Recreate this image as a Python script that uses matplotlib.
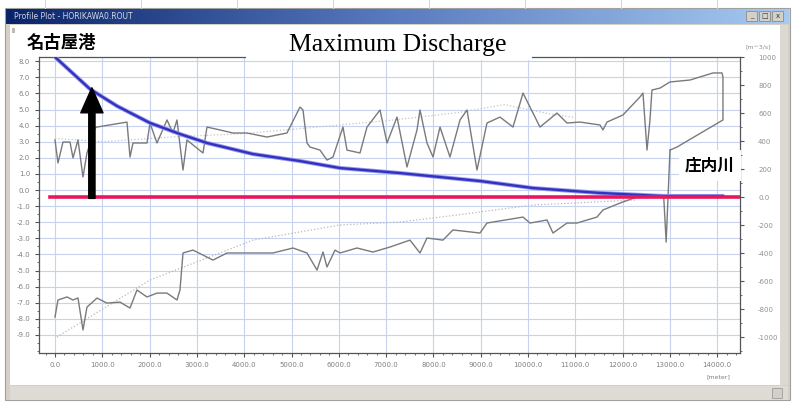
import numpy as np
import matplotlib
matplotlib.use("Agg")
import matplotlib.pyplot as plt
from matplotlib.patches import Rectangle
from matplotlib.ticker import MultipleLocator, FixedLocator

# distance along river [m] and water level [m] (upper trace)
upper_m = [0, 63, 169, 317, 381, 486, 592, 676, 846, 888, 1522, 1586, 1649, 1945, 2008,
           2156, 2368, 2494, 2579, 2706, 2790, 2917, 3129, 3213, 3488, 3763, 4059, 4482,
           4904, 5179, 5243, 5327, 5391, 5602, 5750, 5877, 6088, 6173, 6448, 6596, 6871,
           7019, 7230, 7441, 7653, 7716, 7864, 7991, 8139, 8350, 8562, 8710, 8921, 9132,
           9407, 9682, 9894, 10042, 10253, 10612, 10824, 11099, 11521, 11584, 11669,
           12007, 12367, 12430, 12515, 12578, 12620, 12790, 13001, 13424, 13910, 14100,
           14121, 14121, 13149, 13001]
upper_lv = [3.11, 1.68, 2.98, 2.98, 1.99, 3.11, 0.81, 2.30, 3.85, 3.91, 4.22, 2.05, 2.92,
            2.92, 4.16, 2.92, 4.35, 3.54, 4.35, 1.24, 3.11, 2.80, 2.30, 3.91, 3.73, 3.54,
            3.54, 3.29, 3.54, 5.15, 4.97, 2.92, 2.67, 2.48, 1.86, 2.05, 3.91, 2.48, 2.30,
            3.91, 4.97, 2.92, 4.53, 1.43, 3.73, 4.97, 2.92, 2.05, 3.91, 2.05, 4.35, 4.97,
            1.24, 4.16, 4.53, 3.91, 6.02, 5.15, 3.91, 4.78, 4.16, 4.22, 4.04, 3.73, 4.22,
            4.66, 5.78, 6.02, 2.48, 4.35, 6.21, 6.33, 6.71, 6.83, 7.27, 7.27, 7.02, 4.35,
            2.67, 2.48]

# lower trace
lower_m = [0, 63, 254, 381, 486, 592, 676, 888, 1099, 1374, 1586, 1733, 1945, 2156, 2368,
           2579, 2642, 2706, 2917, 3340, 3636, 4059, 4609, 5031, 5327, 5539, 5666, 5750,
           5920, 6025, 6384, 6722, 7082, 7504, 7716, 7864, 8202, 8413, 8984, 9132, 9894,
           10042, 10401, 10527, 10824, 11035, 11457, 11584, 11944, 12303, 12726, 12870,
           12920, 13001]
lower_lv = [-7.89, -6.83, -6.64, -6.83, -6.70, -8.69, -7.27, -6.71, -7.02, -6.96, -7.33,
            -6.21, -6.64, -6.40, -6.40, -6.83, -6.21, -3.91, -3.73, -4.35, -3.91, -3.91,
            -3.91, -3.60, -3.91, -4.97, -3.85, -4.78, -3.73, -3.91, -3.60, -3.85, -3.54,
            -3.11, -3.91, -2.98, -3.11, -2.48, -2.67, -2.05, -1.68, -2.05, -1.86, -2.67,
            -2.05, -2.05, -1.68, -1.24, -0.81, -0.43, -0.31, -0.50, -3.23, 2.48]

# faint dotted traces
trend_lo_m = [42, 2008, 4186, 6025, 7293, 8498, 10105, 12303]
trend_lo_lv = [-9.13, -5.59, -3.11, -2.17, -1.99, -1.55, -0.93, -0.62]
trend_up_m = [0, 1000, 2500, 4000, 5500, 7000, 8500, 9500, 10500, 11000]
trend_up_lv = [3.2, 3.0, 3.3, 3.5, 3.9, 4.3, 4.8, 5.3, 4.7, 4.5]

# maximum discharge [m3/s]
q_m = [0, 740, 1311, 2008, 2642, 3213, 4186, 5179, 6025, 7293, 8990, 10105, 11521,
       12853, 14121]
q_val = [1000, 771, 650, 529, 450, 386, 307, 257, 207, 171, 114, 64, 29, 7, 7]

x_ticks = list(range(0, 14001, 1000))
x_labels = [f"{v:.1f}" for v in x_ticks]
lv_ticks = list(range(8, -10, -1))
lv_labels = [f"{v:.1f}" for v in lv_ticks]
q_ticks = list(range(1000, -1001, -200))
q_labels = ["0.0" if v == 0 else str(v) for v in q_ticks]

W, H = 792, 403
fig = plt.figure(figsize=(W / 100, H / 100), dpi=100)
fig.patch.set_facecolor("white")


def fbox(x0, y0, x1, y1):
    return [x0 / W, 1 - y1 / H, (x1 - x0) / W, (y1 - y0) / H]


# window chrome in pixel coordinates
bg = fig.add_axes([0, 0, 1, 1], zorder=0)
bg.set_xlim(0, W)
bg.set_ylim(H, 0)
bg.axis("off")
for gx in range(45, W, 96):
    bg.plot([gx, gx], [0, 8], color="#c9d8ee", lw=0.8)
bg.add_patch(Rectangle((5, 8), 785, 392, facecolor="#d4d0c8", edgecolor="#a0a0a0", lw=0.8))
bg.add_patch(Rectangle((10, 25), 770, 360, facecolor="white", edgecolor="none"))
bg.add_patch(Rectangle((780, 25), 8, 360, facecolor="#dcd9d2", edgecolor="none"))
bg.add_patch(Rectangle((10, 386), 778, 14, facecolor="#dedbd4", edgecolor="none"))
bg.add_patch(Rectangle((12, 28), 4, 5, facecolor="#bdbab4", edgecolor="none"))
grad = np.linspace(0, 1, 256).reshape(1, -1)
cmap = matplotlib.colors.LinearSegmentedColormap.from_list("tb", ["#0a246a", "#5a7cc0", "#a6caf0"])
bg.imshow(grad, extent=(6, 789, 24, 9), aspect="auto", cmap=cmap, zorder=2)
bg.text(14, 16.5, "Profile Plot - HORIKAWA0.ROUT", color="white", fontsize=5.5,
        va="center", ha="left", alpha=0.8, zorder=3)
for i, s in enumerate(["_", "□", "x"]):
    bg.add_patch(Rectangle((746 + i * 13, 11), 11, 10, facecolor="#d4d0c8",
                           edgecolor="#808080", lw=0.5, zorder=3))
    bg.text(751.5 + i * 13, 16, s, fontsize=5, ha="center", va="center", color="#333333", zorder=4)
bg.add_patch(Rectangle((772, 388), 10, 10, facecolor="#d4d0c8", edgecolor="#909090", lw=0.5))
bg.set_xlim(0, W)
bg.set_ylim(H, 0)

# main plot
ax = fig.add_axes(fbox(39, 57, 740, 353), zorder=2)
ax.set_facecolor("white")
ax.set_xlim(-338, 14481)
ax.set_ylim(-10.12, 8.26)
ax.xaxis.set_major_locator(FixedLocator(x_ticks))
ax.xaxis.set_minor_locator(MultipleLocator(200))
ax.set_xticklabels(x_labels)
ax.yaxis.set_major_locator(FixedLocator(lv_ticks))
ax.yaxis.set_minor_locator(MultipleLocator(0.5))
ax.set_yticklabels(lv_labels)
ax.grid(True, which="major", color="#c6d2ee", lw=0.8)
ax.tick_params(which="both", direction="out", color="#555555", labelsize=5,
               labelcolor="#808080")
ax.tick_params(which="major", length=3)
ax.tick_params(which="minor", length=1.5)
for sp in ax.spines.values():
    sp.set_color("#555555")
    sp.set_linewidth(0.9)

ax.plot(trend_up_m, trend_up_lv, color="#c4c4c4", lw=0.9, ls=":")
ax.plot(trend_lo_m, trend_lo_lv, color="#b8b8b8", lw=0.9, ls=":")
ax.plot(upper_m, upper_lv, color="#7a7a7a", lw=1.0)
ax.plot(lower_m, lower_lv, color="#7a7a7a", lw=1.0)

ax2 = ax.twinx()
ax2.set_ylim(-1114, 1000)
ax2.yaxis.set_major_locator(FixedLocator(q_ticks))
ax2.yaxis.set_minor_locator(MultipleLocator(100))
ax2.set_yticklabels(q_labels)
ax2.tick_params(which="both", direction="out", color="#555555", labelsize=5,
                labelcolor="#909090", pad=10)
ax2.tick_params(which="major", length=3)
ax2.tick_params(which="minor", length=1.5)
for sp in ax2.spines.values():
    sp.set_visible(False)
ax2.plot(q_m, q_val, color="#9a9aec", lw=3.0, solid_capstyle="round")
ax2.plot(q_m, q_val, color="#3232c0", lw=1.7)
ax2.plot([-100, 14481], [0, 0], color="#e8175d", lw=2.6)

# arrow
ax2.annotate("", xy=(780, 780), xytext=(780, -10),
             arrowprops=dict(arrowstyle="simple,head_width=1.6,head_length=1.8,tail_width=0.45",
                             facecolor="black", edgecolor="black", shrinkA=0, shrinkB=0))

# overlay labels
top = fig.add_axes([0, 0, 1, 1], zorder=5)
top.set_xlim(0, W)
top.set_ylim(H, 0)
top.axis("off")
top.patch.set_alpha(0)
top.add_patch(Rectangle((15, 27), 92, 29, facecolor="white", edgecolor="none"))
top.text(61, 43, "名古屋港", fontsize=12.5, fontweight="bold", ha="center", va="center",
         family=["Noto Sans CJK JP", "DejaVu Sans"])
top.add_patch(Rectangle((246, 27), 286, 33, facecolor="white", edgecolor="none"))
top.text(398, 45, "Maximum Discharge", fontsize=18.5, ha="center", va="center",
         family="Liberation Serif")
top.add_patch(Rectangle((679, 150), 62, 31, facecolor="white", edgecolor="none"))
top.text(710, 166, "庄内川", fontsize=12, fontweight="bold", ha="center", va="center",
         family=["Noto Sans CJK JP", "DejaVu Sans"])
top.text(758, 47, "[m^3/s]", fontsize=4.5, color="#909090", ha="center", va="center")
top.text(718, 377, "[meter]", fontsize=4.5, color="#808080", ha="center", va="center")

fig.savefig("out.png", dpi=100)
